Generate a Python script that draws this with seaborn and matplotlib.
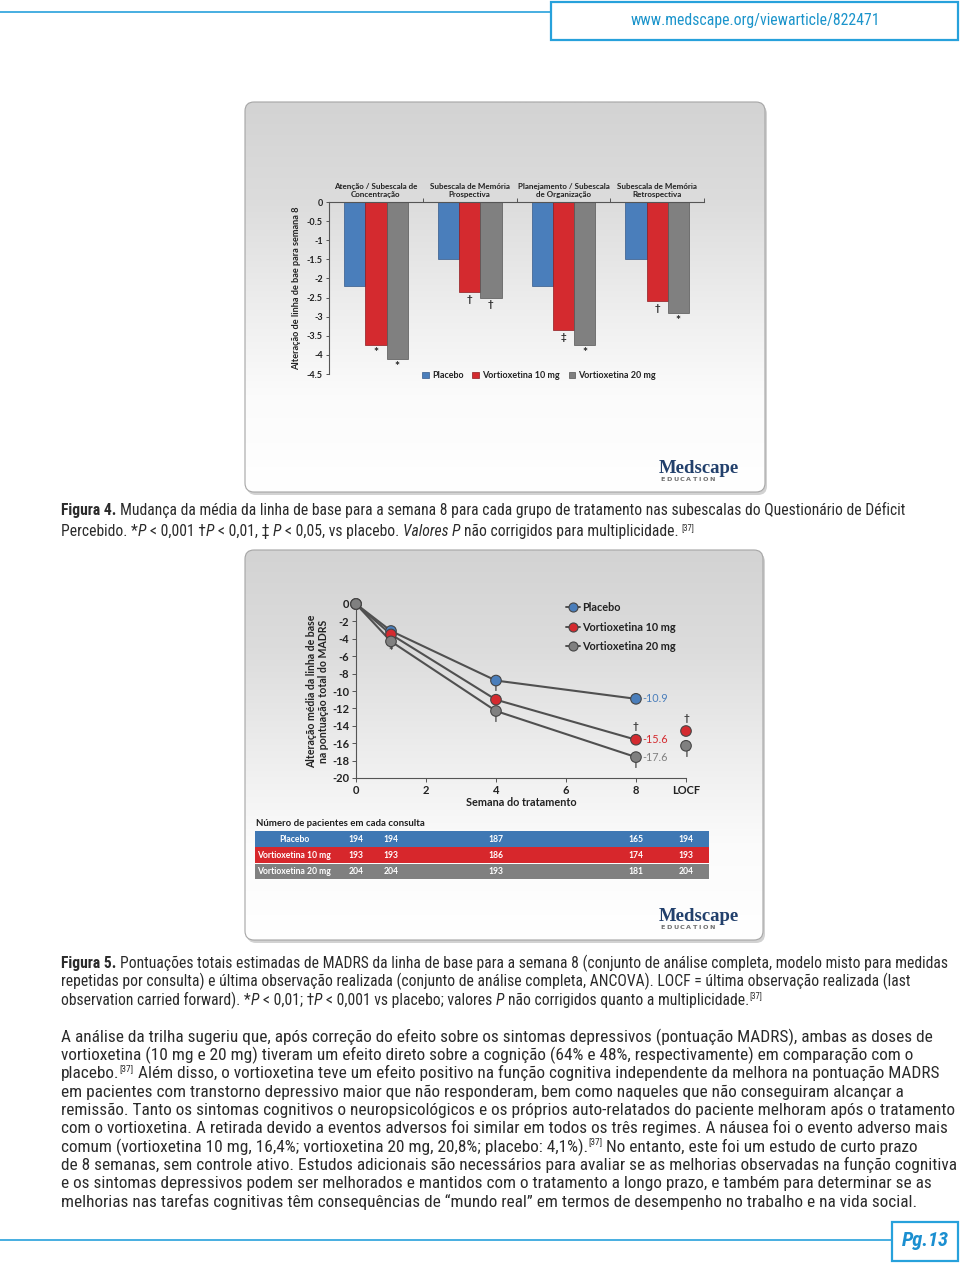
import matplotlib
matplotlib.use("Agg")
import matplotlib.pyplot as plt
from matplotlib import font_manager
from matplotlib.colors import LinearSegmentedColormap
from matplotlib.lines import Line2D
from matplotlib.patches import FancyBboxPatch, Rectangle
from matplotlib.transforms import blended_transform_factory
import numpy as np
import pandas as pd
import seaborn as sns

W, H = 960, 1267

# ---- Figura 4: change from baseline at week 8, PDQ subscales ----
subscales = ["Atenção / Subescala de\nConcentração",
             "Subescala de Memória\nProspectiva",
             "Planejamento / Subescala\nde Organização",
             "Subescala de Memória\nRetrospectiva"]
groups = ["Placebo", "Vortioxetina 10 mg", "Vortioxetina 20 mg"]
placebo_chg = [-2.2, -1.5, -2.2, -1.5]
vort10_chg = [-3.75, -2.35, -3.35, -2.6]
vort20_chg = [-4.1, -2.5, -3.75, -2.9]
sig10 = ["*", "†", "‡", "†"]
sig20 = ["*", "†", "*", "*"]
bar_yticks = [0, -0.5, -1, -1.5, -2, -2.5, -3, -3.5, -4, -4.5]

# ---- Figura 5: MADRS change from baseline ----
weeks = [0, 1, 4, 8]
placebo_madrs = [0, -3.1, -8.8, -10.9]
vort10_madrs = [0, -3.5, -11.0, -15.6]
vort20_madrs = [0, -4.3, -12.3, -17.6]
locf_groups = ["Vortioxetina 10 mg", "Vortioxetina 20 mg"]
locf_madrs = [-14.6, -16.3]
line_yticks = [0, -2, -4, -6, -8, -10, -12, -14, -16, -18, -20]
line_xticks = [0, 2, 4, 6, 8]
# (group, week or "LOCF", symbol, above/below)
sig5 = [("Vortioxetina 20 mg", 1, "*", "below"),
        ("Vortioxetina 10 mg", 4, "†", "above"),
        ("Vortioxetina 20 mg", 4, "†", "below"),
        ("Vortioxetina 10 mg", 8, "†", "above"),
        ("Vortioxetina 20 mg", 8, "†", "below"),
        ("Vortioxetina 10 mg", "LOCF", "†", "above"),
        ("Vortioxetina 20 mg", "LOCF", "†", "below")]

# patients per visit (weeks 0, 1, 4, 8, LOCF)
placebo_n = [194, 194, 187, 165, 194]
vort10_n = [193, 193, 186, 174, 193]
vort20_n = [204, 204, 193, 181, 204]

# ---- page text: (runs, right edge in the page or None) ----
cap4 = [
    ([("Figura 4.", "b"), (" Mudança da média da linha de base para a semana 8 para cada grupo de tratamento nas subescalas do Questionário de Déficit", "r")], 910),
    ([("Percebido. *", "r"), ("P", "i"), (" < 0,001 †", "r"), ("P", "i"), (" < 0,01, ‡ ", "r"), ("P", "i"),
      (" < 0,05, vs placebo. ", "r"), ("Valores P", "i"), (" não corrigidos para multiplicidade. ", "r"), ("[37]", "s")], 688),
]
cap5 = [
    ([("Figura 5.", "b"), (" Pontuações totais estimadas de MADRS da linha de base para a semana 8 (conjunto de análise completa, modelo misto para medidas", "r")], 949),
    ([("repetidas por consulta) e última observação realizada (conjunto de análise completa, ANCOVA). LOCF = última observação realizada (last", "r")], 907),
    ([("observation carried forward). *", "r"), ("P", "i"), (" < 0,01; †", "r"), ("P", "i"), (" < 0,001 vs placebo; valores ", "r"),
      ("P", "i"), (" não corrigidos quanto a multiplicidade.", "r"), ("[37]", "s")], 765),
]
body = [
    ([("A análise da trilha sugeriu que, após correção do efeito sobre os sintomas depressivos (pontuação MADRS), ambas as doses de", "r")], 930),
    ([("vortioxetina (10 mg e 20 mg) tiveram um efeito direto sobre a cognição (64% e 48%, respectivamente) em comparação com o", "r")], 927),
    ([("placebo.", "r"), ("[37]", "s"), (" Além disso, o vortioxetina teve um efeito positivo na função cognitiva independente da melhora na pontuação MADRS", "r")], 938),
    ([("em pacientes com transtorno depressivo maior que não responderam, bem como naqueles que não conseguiram alcançar a", "r")], 899),
    ([("remissão. Tanto os sintomas cognitivos o neuropsicológicos e os próprios auto-relatados do paciente melhoram após o tratamento", "r")], 940),
    ([("com o vortioxetina. A retirada devido a eventos adversos foi similar em todos os três regimes. A náusea foi o evento adverso mais", "r")], 949),
    ([("comum (vortioxetina 10 mg, 16,4%; vortioxetina 20 mg, 20,8%; placebo: 4,1%).", "r"), ("[37]", "s"), (" No entanto, este foi um estudo de curto prazo", "r")], 938),
    ([("de 8 semanas, sem controle ativo. Estudos adicionais são necessários para avaliar se as melhorias observadas na função cognitiva", "r")], 949),
    ([("e os sintomas depressivos podem ser melhorados e mantidos com o tratamento a longo prazo, e também para determinar se as", "r")], 941),
    ([("melhorias nas tarefas cognitivas têm consequências de “mundo real” em termos de desempenho no trabalho e na vida social.", "r")], 923),
]

# colours
bar_colors = ["#4a7ebb", "#d42a2f", "#808080"]
bar_edges = ["#34598a", "#8e1b1f", "#555555"]
row_colors = ["#3f78b4", "#d7272c", "#808080"]
BLUE = "#27a1db"
TXT = "#2b2b2b"
LOCF_POS = 9.43

sns.set_theme(style="ticks")
available = {f.name for f in font_manager.fontManager.ttflist}
narrow = [f for f in ["Liberation Sans Narrow", "Roboto Condensed", "Open Sans Condensed", "Roboto"] if f in available]
TEXT_FONT = narrow[:1] + ["DejaVu Sans"]
CHART_FONT = [f for f in ["Lato", "Open Sans"] if f in available][:1] + ["DejaVu Sans"]
SERIF = [f for f in ["Liberation Serif", "DejaVu Serif"] if f in available][:1]
plt.rcParams["font.family"] = CHART_FONT
plt.rcParams["axes.unicode_minus"] = False

fig = plt.figure(figsize=(W / 100, H / 100), dpi=100, facecolor="white")
ov = fig.add_axes([0, 0, 1, 1], zorder=0)
ov.set_xlim(0, W)
ov.set_ylim(H, 0)
ov.axis("off")
ov.set_autoscale_on(False)
renderer = fig.canvas.get_renderer()


def px_axes(x0, y0, x1, y1):
    return fig.add_axes([x0 / W, 1 - y1 / H, (x1 - x0) / W, (y1 - y0) / H], zorder=1)


def text_w(s, **kw):
    t = ov.text(0, 0, s, **kw)
    w = t.get_window_extent(renderer).width
    t.remove()
    return w


def draw_runs(x, y, runs, size, family=TEXT_FONT, color=TXT, draw=True):
    em = size * 100 / 72
    sw = text_w("a a", fontsize=size, family=family) - text_w("aa", fontsize=size, family=family)
    for txt, style in runs:
        kw = dict(fontsize=size, family=family, color=color, va="baseline", ha="left", zorder=5)
        yy = y + 0.34 * em
        if style == "b":
            kw["fontweight"] = "bold"
        elif style == "i":
            kw["fontstyle"] = "italic"
        elif style == "s":
            kw["fontsize"] = size * 0.55
            yy -= 0.42 * em
        lead = len(txt) - len(txt.lstrip(" "))
        trail = len(txt) - len(txt.rstrip(" "))
        core = txt.strip(" ")
        x += lead * sw
        if core:
            t = ov.text(x, yy, core, **kw)
            w = t.get_window_extent(renderer).width
            if not draw:
                t.remove()
            x += w
        x += trail * sw
    return x


def fit(runs, x0, x1, size=10.0):
    # refine at the real size, glyph hinting makes widths not quite linear
    for _ in range(3):
        w = draw_runs(x0, 0, runs, size, draw=False) - x0
        size *= (x1 - x0) / w
    return size


def draw_block(lines, x0, y0, step):
    size = float(np.median([fit(r, x0, end) for r, end in lines]))
    for i, (runs, end) in enumerate(lines):
        draw_runs(x0, y0 + step * i, runs, size)


grad = LinearSegmentedColormap.from_list("panel", ["#d3d3d3", "#dcdcdc", "#ececec", "#fbfbfb", "#ffffff"])


def panel(x0, y0, x1, y1):
    style = "round,pad=0,rounding_size=9"
    ov.add_patch(FancyBboxPatch((x0 + 2, y0 + 3), x1 - x0, y1 - y0, boxstyle=style,
                                fc="#9c9c9c", ec="none", alpha=0.45, zorder=1))
    box = FancyBboxPatch((x0, y0), x1 - x0, y1 - y0, boxstyle=style, fc="white", ec="none", zorder=2)
    ov.add_patch(box)
    im = ov.imshow(np.linspace(0, 1, 256)[:, None], extent=[x0, x1, y1, y0], cmap=grad,
                   aspect="auto", zorder=2.1, interpolation="bilinear")
    im.set_clip_path(box)
    ov.add_patch(FancyBboxPatch((x0, y0), x1 - x0, y1 - y0, boxstyle=style, fc="none",
                                ec="#a5a5a5", lw=0.8, zorder=2.2))


def medscape(x, y):
    ov.text(x, y, "Medscape", family=SERIF, fontsize=13.5, fontweight="bold", color="#22406c",
            va="baseline", zorder=5)
    xx = x + 1
    for ch in "EDUCATION":
        t = ov.text(xx, y + 6.5, ch, fontsize=4.6, fontweight="bold", color="#6e6e6e",
                    family=["DejaVu Sans"], va="center", ha="left", zorder=5)
        xx += t.get_window_extent(renderer).width + 1.6


# ---- header / footer ----
ov.plot([0, 551], [12, 12], color=BLUE, lw=1.2, zorder=3)
ov.add_patch(Rectangle((551, 2), 407, 38, fc="white", ec=BLUE, lw=1.6, zorder=3))
url = "www.medscape.org/viewarticle/822471"
s = 10 * 248 / text_w(url, fontsize=10, family=TEXT_FONT)
ov.text(755, 21, url, fontsize=s, family=TEXT_FONT, color="#1b94cb", ha="center", va="center", zorder=5)

ov.plot([0, 892], [1240, 1240], color=BLUE, lw=1.2, zorder=3)
ov.add_patch(Rectangle((892, 1222), 66, 39, fc="white", ec=BLUE, lw=1.6, zorder=3))
s = 10 * 47 / text_w("Pg.13", fontsize=10, family=TEXT_FONT, fontweight="bold", fontstyle="italic")
ov.text(925, 1241, "Pg.13", fontsize=s, family=TEXT_FONT, fontweight="bold", fontstyle="italic",
        color="#1b8fd0", ha="center", va="center", zorder=5)

# ---- panels ----
panel(245, 102, 765, 492)
panel(245, 550, 763, 940)
medscape(659, 473)
medscape(659, 921)

# ---- Figura 4 bar chart ----
df4 = pd.DataFrame({
    "subscale": subscales * 3,
    "group": np.repeat(groups, len(subscales)),
    "change": placebo_chg + vort10_chg + vort20_chg,
})
ax4 = px_axes(329, 202, 704, 374)
sns.barplot(data=df4, x="subscale", y="change", hue="group", order=subscales, hue_order=groups,
            palette=bar_colors, saturation=1, width=0.68, errorbar=None, legend=False, ax=ax4)
for cont, ec in zip(ax4.containers, bar_edges):
    for bar in cont:
        bar.set_edgecolor(ec)
        bar.set_linewidth(0.5)
ax4.set_facecolor("none")
ax4.set_xlim(-0.5, 3.5)
ax4.set_ylim(-4.5, 0)
ax4.set_yticks(bar_yticks)
ax4.set_yticklabels([f"{v:g}" for v in bar_yticks])
ax4.xaxis.tick_top()
ax4.set_xlabel("")
ax4.set_xticks([0.5, 1.5, 2.5, 3.5], minor=True)
ax4.tick_params(axis="x", which="major", length=0, pad=3, labelsize=5.75, colors="#222222")
ax4.tick_params(axis="x", which="minor", length=3, direction="out", color="#555555", width=0.7)
ax4.tick_params(axis="y", length=2.5, width=0.7, color="#555555", labelsize=6.5, pad=2, labelcolor="#222222")
for lbl in ax4.get_xticklabels() + ax4.get_yticklabels():
    lbl.set_fontweight("bold")
for sp in ["bottom", "right"]:
    ax4.spines[sp].set_visible(False)
for sp in ["top", "left"]:
    ax4.spines[sp].set_color("#555555")
    ax4.spines[sp].set_linewidth(0.8)
ax4.set_ylabel("Alteração de linha de bae para semana 8", fontsize=6.6, fontweight="bold",
               color="#222222", labelpad=4)
for cont, marks in zip(ax4.containers[1:], [sig10, sig20]):
    for bar, m in zip(cont, marks):
        big = m == "*"
        ax4.annotate(m, (bar.get_x() + bar.get_width() / 2, bar.get_y() + bar.get_height()),
                     xytext=(0, -1.5 if big else -2), textcoords="offset points", ha="center", va="top",
                     fontsize=8.5 if big else 7, fontweight="bold", color="#222222", annotation_clip=False)
handles4 = [Rectangle((0, 0), 1, 1, fc=c, ec=e, lw=0.5) for c, e in zip(bar_colors, bar_edges)]
ax4.legend(handles4, groups, loc="lower center", bbox_to_anchor=(0.56, -0.035), ncol=3,
           frameon=False, handlelength=0.75, handleheight=0.75, handletextpad=0.3,
           columnspacing=1.0, borderaxespad=0, borderpad=0,
           prop=dict(size=6.5, weight="bold"), labelcolor="#222222")

# ---- Figura 5 line chart ----
df5 = pd.DataFrame({
    "x": weeks * 3,
    "group": np.repeat(groups, len(weeks)),
    "change": placebo_madrs + vort10_madrs + vort20_madrs,
})
df_locf = pd.DataFrame({"x": [LOCF_POS] * len(locf_groups), "group": locf_groups, "change": locf_madrs})
df_pts = pd.concat([df5, df_locf], ignore_index=True)
line_colors = dict(zip(groups, bar_colors))

ax5 = px_axes(356, 604, 686, 778)
sns.lineplot(data=df5, x="x", y="change", units="group", estimator=None, color="#505050",
             lw=1.5, legend=False, ax=ax5, zorder=2)
sns.scatterplot(data=df_pts, x="x", y="change", hue="group", hue_order=groups, palette=line_colors,
                s=58, edgecolor="#454545", linewidth=0.8, legend=False, ax=ax5, zorder=4, clip_on=False)
ax5.set_facecolor("none")
ax5.set_xlim(0, LOCF_POS)
ax5.set_ylim(-20, 0)
ax5.set_xticks(line_xticks + [LOCF_POS])
ax5.set_xticklabels([str(v) for v in line_xticks] + ["LOCF"])
ax5.set_yticks(line_yticks)
ax5.set_yticklabels([str(v) for v in line_yticks])
ax5.tick_params(length=3, width=0.7, color="#555555", labelsize=8, pad=2, labelcolor="#222222")
for lbl in ax5.get_xticklabels() + ax5.get_yticklabels():
    lbl.set_fontweight("bold")
for sp in ["top", "right"]:
    ax5.spines[sp].set_visible(False)
for sp in ["bottom", "left"]:
    ax5.spines[sp].set_color("#555555")
    ax5.spines[sp].set_linewidth(0.8)
ax5.set_xlabel("Semana do tratamento", fontsize=7.8, fontweight="bold", color="#222222", labelpad=1)
ax5.set_ylabel("Alteração média da linha de base\nna pontuação total do MADRS", fontsize=7.6,
               fontweight="bold", color="#222222", labelpad=2, linespacing=1.15)

for g, vals in zip(groups, [placebo_madrs, vort10_madrs, vort20_madrs]):
    ax5.annotate(f"{vals[-1]:.1f}", (weeks[-1], vals[-1]), xytext=(4.5, 0), textcoords="offset points",
                 ha="left", va="center", fontsize=7.8, color=line_colors[g], annotation_clip=False)

series5 = dict(zip(groups, [placebo_madrs, vort10_madrs, vort20_madrs]))
for g, wk, sym, where in sig5:
    if wk == "LOCF":
        xv, yv = LOCF_POS, locf_madrs[locf_groups.index(g)]
    else:
        xv, yv = wk, series5[g][weeks.index(wk)]
    dy = 9.3 if where == "above" else (-7.5 if sym == "*" else -4.5)
    ax5.annotate(sym, (xv, yv), xytext=(0, dy), textcoords="offset points", ha="center", va="center",
                 fontsize=8 if sym == "*" else 7.2, fontweight="bold", color="#333333", zorder=3,
                 annotation_clip=False)

handles5 = [Line2D([0], [0], color="#505050", lw=1.4, marker="o", markersize=6.5,
                   markerfacecolor=c, markeredgecolor="#454545", markeredgewidth=0.8) for c in bar_colors]
ax5.legend(handles5, groups, loc="upper left", bbox_to_anchor=(0.635, 1.01), frameon=False,
           handlelength=1.3, handletextpad=0.2, labelspacing=0.78, borderaxespad=0, borderpad=0,
           prop=dict(size=7.8, weight="bold"), labelcolor="#222222")

# ---- patient table ----
ov.text(256, 823, "Número de pacientes em cada consulta", fontsize=6.9, fontweight="bold",
        color="#1e1e1e", va="center", ha="left", zorder=5)
blend = blended_transform_factory(ax5.transData, ov.transData)
table_x = weeks + [LOCF_POS]
row_tops = [831, 847.3, 863.6]
for top, g, counts, rc in zip(row_tops, groups, [placebo_n, vort10_n, vort20_n], row_colors):
    ov.add_patch(Rectangle((255, top), 454, 15.6, fc=rc, ec="none", zorder=3))
    yc = top + 8
    ov.text(294, yc, g, fontsize=6.2, fontweight="bold", color="white", ha="center", va="center", zorder=5)
    for xv, n in zip(table_x, counts):
        ov.text(xv, yc, str(n), transform=blend, fontsize=6.2, fontweight="bold", color="white",
                ha="center", va="center", zorder=5)

# ---- captions and body text ----
draw_block(cap4, 61, 510, 21)
draw_block(cap5, 61, 963, 18.2)
draw_block(body, 61, 1036, 18.3)

ov.set_xlim(0, W)
ov.set_ylim(H, 0)
fig.savefig("out.png", dpi=100, facecolor="white")
